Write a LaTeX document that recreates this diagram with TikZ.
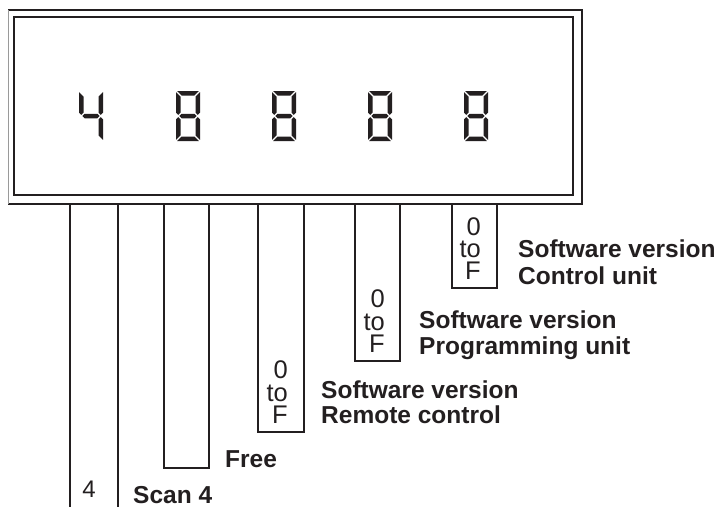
\documentclass[tikz,border=0pt]{standalone}
\usepackage{fontspec}
\setmainfont{Liberation Sans}
\definecolor{ink}{HTML}{231F20}
\definecolor{edgegray}{HTML}{9A9A9A}
\tikzset{
  x=1pt, y=-1pt,
  frameline/.style={draw=ink, line width=2.4pt},
  legline/.style={draw=ink, line width=1.8pt},
  seg/.style={fill=ink, draw=none},
  lbl/.style={inner sep=0pt, anchor=base west, text=ink,
              font=\fontsize{24.5}{26}\selectfont\bfseries},
  rng/.style={inner sep=0pt, anchor=base east, text=ink,
              text height=17pt, text depth=0pt,
              font=\fontsize{25.5}{24}\selectfont},
  % seven-segment digit, 24 wide and 50 high, origin at its top left corner
  pics/lcdeight/.style={code={
    \fill[seg] (1.2,0) -- (22.8,0) -- (18.3,4.5) -- (5.7,4.5) -- cycle;
    \fill[seg] (1.2,50) -- (22.8,50) -- (18.3,45.5) -- (5.7,45.5) -- cycle;
    \fill[seg] (0,1.2) -- (4.5,5.7) -- (4.5,21.55) -- (2.25,23.8) -- (0,21.55) -- cycle;
    \fill[seg] (0,48.8) -- (4.5,44.3) -- (4.5,28.45) -- (2.25,26.2) -- (0,28.45) -- cycle;
    \fill[seg] (24,1.2) -- (19.5,5.7) -- (19.5,21.55) -- (21.75,23.8) -- (24,21.55) -- cycle;
    \fill[seg] (24,48.8) -- (19.5,44.3) -- (19.5,28.45) -- (21.75,26.2) -- (24,28.45) -- cycle;
    \fill[seg] (3.4,25) -- (5.65,22.75) -- (18.35,22.75) -- (20.6,25) -- (18.35,27.25) -- (5.65,27.25) -- cycle;
  }},
  pics/lcdfour/.style={code={
    \fill[seg] (0,1.2) -- (4.5,5.7) -- (4.5,21.55) -- (2.25,23.8) -- (0,21.55) -- cycle;
    \fill[seg] (24,1.2) -- (19.5,5.7) -- (19.5,21.55) -- (21.75,23.8) -- (24,21.55) -- cycle;
    \fill[seg] (24,48.8) -- (19.5,44.3) -- (19.5,28.45) -- (21.75,26.2) -- (24,28.45) -- cycle;
    \fill[seg] (3.4,25) -- (5.65,22.75) -- (18.35,22.75) -- (20.6,25) -- (18.35,27.25) -- (5.65,27.25) -- cycle;
  }},
}
\begin{document}
\begin{tikzpicture}
\useasboundingbox[fill=white] (0,0) rectangle (721,507);

% display housing: outer and inner frame
\draw[frameline] (8,10) -- (582,10) -- (582,204) -- (8,204);
\draw[draw=edgegray, line width=0.8pt] (8,10) -- (8,204);
\draw[frameline] (14,17) rectangle (573,195);

% digits on the display
\pic at (79,91) {lcdfour};
\foreach \dx in {176,272,368,464} {
  \pic at (\dx,91) {lcdeight};
}

% leg 1: scan 4 (open at the bottom)
\draw[legline] (70,204) -- (70,507);
\draw[legline] (118,204) -- (118,507);
\node[inner sep=0pt, anchor=base, text=ink, text height=17pt, text depth=0pt,
      font=\fontsize{24}{24}\selectfont] (scanval) at (89,497) {4};
\node[lbl, text height=17pt, text depth=0pt] (scanlbl) at (133,503) {Scan 4};

% leg 2: free
\draw[legline] (164,204) -- (164,468) -- (209,468) -- (209,204);
\node[lbl] (freelbl) at (225,467) {Free};

% leg 3: remote control
\draw[legline] (258,204) -- (258,432) -- (304,432) -- (304,204);
\node[rng] (rc0) at (288,378) {0};
\node[rng] (rcto) at (288,401) {to};
\node[rng] (rcF) at (288,423) {F};
\node[lbl] (rc1) at (321,398) {Software version};
\node[lbl] (rc2) at (321,423) {Remote control};

% leg 4: programming unit
\draw[legline] (355,204) -- (355,361) -- (400,361) -- (400,204);
\node[rng] (pu0) at (385,307) {0};
\node[rng] (puto) at (385,330) {to};
\node[rng] (puF) at (385,352) {F};
\node[lbl] (pu1) at (419,328) {Software version};
\node[lbl] (pu2) at (419,354) {Programming unit};

% leg 5: control unit
\draw[legline] (452,204) -- (452,288) -- (497,288) -- (497,204);
\node[rng] (cu0) at (481,235) {0};
\node[rng] (cuto) at (481,257) {to};
\node[rng] (cuF) at (481,279) {F};
\node[lbl] (cu1) at (518,257) {Software version};
\node[lbl] (cu2) at (518,284) {Control unit};
\end{tikzpicture}
\end{document}
